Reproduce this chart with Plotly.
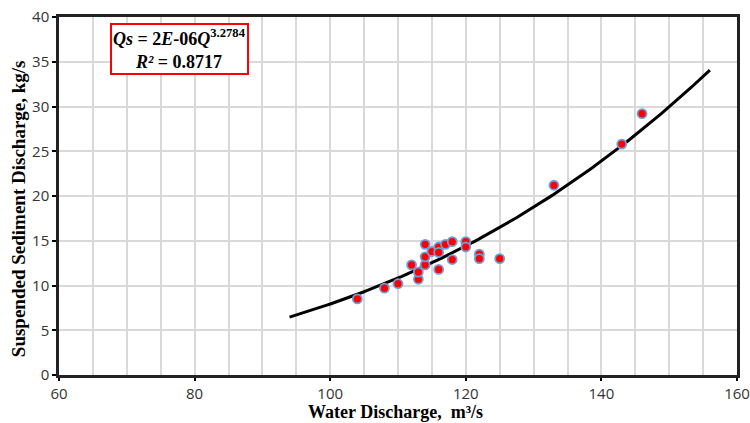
import numpy as np
import plotly.graph_objects as go

# Observed data
water_q = [104, 108, 110, 113, 113, 112, 114, 114, 114, 115, 116, 116, 117, 118, 118,
           116, 120, 120, 122, 122, 125, 133, 143, 146]
sed_q = [8.5, 9.7, 10.2, 10.7, 11.5, 12.3, 12.3, 13.2, 14.6, 13.8, 14.3, 13.7, 14.6, 14.9, 12.9,
         11.8, 14.9, 14.3, 13.5, 13.0, 13.0, 21.2, 25.8, 29.2]

# Power trendline Qs = a * Q^b
coef_a = 2.2e-06
coef_b = 3.2784
trend_range = [94, 156]

x_ticks = [60, 80, 100, 120, 140, 160]
y_ticks = [0, 5, 10, 15, 20, 25, 30, 35, 40]

tx = np.linspace(trend_range[0], trend_range[1], 200)
ty = coef_a * tx ** coef_b

fig = go.Figure()
fig.add_trace(go.Scatter(x=tx, y=ty, mode="lines",
                         line=dict(color="black", width=3), showlegend=False,
                         hoverinfo="skip"))
fig.add_trace(go.Scatter(x=water_q, y=sed_q, mode="markers",
                         marker=dict(color="#ff0000", size=9,
                                     line=dict(color="#6f9fd8", width=1.8)),
                         showlegend=False))

tick_font = dict(family="Open Sans, Liberation Sans, sans-serif", size=15, color="#333333")
title_font = dict(family="Liberation Serif, Times New Roman, serif", size=18, color="black")

fig.update_xaxes(range=[60, 160], tickvals=x_ticks, ticks="outside", ticklen=3,
                 tickcolor="black", tickwidth=1.5, automargin=False,
                 showline=True, linecolor="#222222", linewidth=2.5, mirror=True,
                 showgrid=True, gridcolor="#d9d9d9", gridwidth=1.5,
                 minor=dict(dtick=5, showgrid=True, gridcolor="#d9d9d9", gridwidth=1.5),
                 zeroline=False, tickfont=tick_font)
fig.update_yaxes(range=[0, 40], tickvals=y_ticks, ticks="outside", ticklen=4,
                 tickcolor="black", tickwidth=1.5, automargin=False,
                 showline=True, linecolor="#222222", linewidth=2.5, mirror=True,
                 showgrid=True, gridcolor="#d9d9d9", gridwidth=1.5,
                 zeroline=False, tickfont=tick_font)

# Axis titles
fig.add_annotation(xref="paper", yref="paper", x=0.496, y=-0.104,
                   xanchor="center", yanchor="middle", showarrow=False,
                   text="<b>Water Discharge,  m³/s</b>", font=title_font)
fig.add_annotation(xref="paper", yref="paper", x=-0.0605, y=0.466,
                   xanchor="center", yanchor="middle", showarrow=False, textangle=-90,
                   text="<b>Suspended Sediment Discharge, kg/s</b>",
                   font=dict(title_font, size=19))

fig.add_annotation(
    xref="paper", yref="paper", x=0.177, y=0.982, xanchor="center", yanchor="top",
    text="<b><i>Qs</i> = 2<i>E</i>-06<i>Q</i><sup>3.2784</sup></b><br><b><i>R²</i> = 0.8717</b>",
    showarrow=False, align="center",
    font=dict(family="Liberation Serif, Times New Roman, serif", size=18, color="black"),
    bordercolor="#ff0000", borderwidth=2, borderpad=1, bgcolor="white",
)

fig.update_layout(
    width=750, height=423,
    margin=dict(l=59, r=13, t=17, b=48),
    paper_bgcolor="white", plot_bgcolor="white",
)

fig.write_html("out.html")
